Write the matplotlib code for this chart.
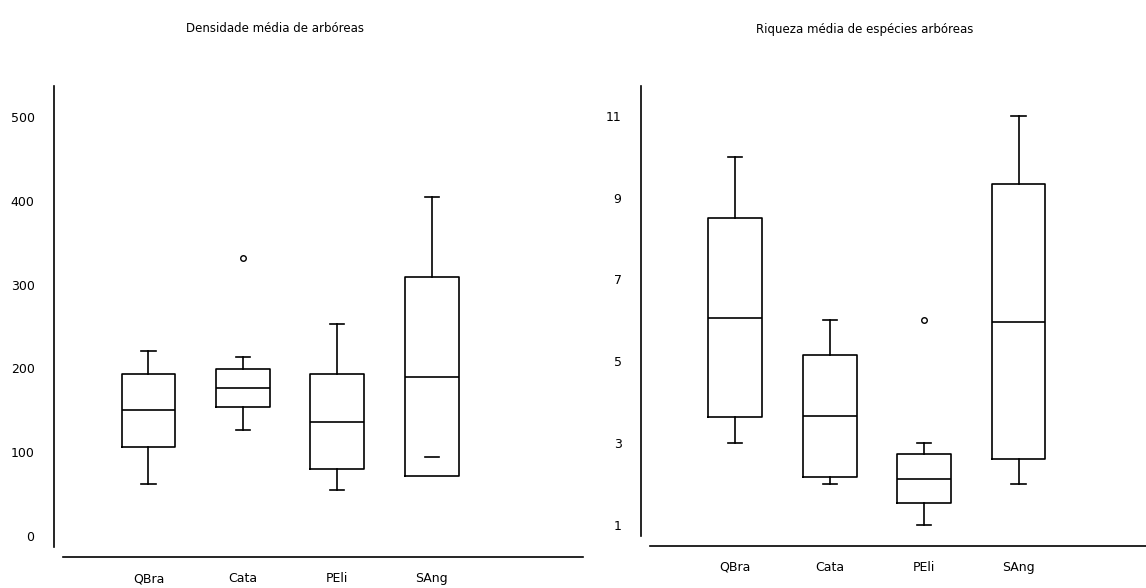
import matplotlib.pyplot as plt
from matplotlib.lines import Line2D
from matplotlib import font_manager

sites = ['QBra', 'Cata', 'PEli', 'SAng']

# densidade média de arbóreas
dens_whislo = [62, 126, 55, 94]
dens_q1 = [106, 154, 80, 72]
dens_med = [150, 177, 136, 190]
dens_q3 = [193, 199, 193, 309]
dens_whishi = [221, 214, 253, 405]
dens_fliers = [[], [332], [], []]

# riqueza média de espécies arbóreas
riq_whislo = [3, 2, 1, 2]
riq_q1 = [3.63, 2.17, 1.53, 2.62]
riq_med = [6.07, 3.66, 2.13, 5.95]
riq_q3 = [8.51, 5.16, 2.73, 9.33]
riq_whishi = [10, 6, 3, 11]
riq_fliers = [[], [], [6], []]

names = {f.name for f in font_manager.fontManager.ttflist}
if 'Liberation Sans Narrow' in names:
    plt.rcParams['font.family'] = ['Liberation Sans Narrow', 'DejaVu Sans']
    fs = 10
else:
    plt.rcParams['font.family'] = ['DejaVu Sans']
    fs = 9

W, H = 1146, 588
fig = plt.figure(figsize=(W / 100, H / 100), dpi=100)
fig.patch.set_facecolor('white')


def px_axes(left, right, top, bottom):
    return fig.add_axes([left / W, 1 - bottom / H, (right - left) / W, (bottom - top) / H])


def draw_panel(ax, whislo, q1, med, q3, whishi, fliers, ylim, yticks, xline_start, xline_off, skip_whisker=()):
    stats = []
    for i, name in enumerate(sites):
        stats.append(dict(label=name, whislo=whislo[i], q1=q1[i], med=med[i],
                          q3=q3[i], whishi=whishi[i], fliers=fliers[i]))
    lw = 1.2
    art = ax.bxp(stats, positions=[1, 2, 3, 4], widths=0.57, capwidths=0.15,
                 boxprops=dict(color='black', linewidth=lw),
                 medianprops=dict(color='black', linewidth=lw),
                 whiskerprops=dict(color='black', linewidth=lw),
                 capprops=dict(color='black', linewidth=lw),
                 flierprops=dict(marker='o', markersize=4, markerfacecolor='white',
                                 markeredgecolor='black', markeredgewidth=1.0))
    for i in skip_whisker:
        art['whiskers'][2 * i].set_visible(False)
    ax.set_ylim(*ylim)
    ax.set_yticks(yticks)
    for s in ['top', 'right', 'bottom']:
        ax.spines[s].set_visible(False)
    ax.spines['left'].set_linewidth(1.2)
    ax.tick_params(axis='both', length=0, labelsize=fs)
    ax.tick_params(axis='y', pad=14)
    ax.tick_params(axis='x', pad=18)
    ax.add_line(Line2D([xline_start, 1], [xline_off, xline_off], transform=ax.transAxes,
                       color='black', linewidth=1.2, clip_on=False))


ax1 = px_axes(54, 583, 86, 547)
ax1.set_xlim(0, 5.6)
draw_panel(ax1, dens_whislo, dens_q1, dens_med, dens_q3, dens_whishi, dens_fliers,
           (-13, 537), [0, 100, 200, 300, 400, 500], (63 - 54) / (583 - 54), -10 / 461,
           skip_whisker=(3,))

ax2 = px_axes(641, 1146, 86, 536)
ax2.set_xlim(0, 5.35)
draw_panel(ax2, riq_whislo, riq_q1, riq_med, riq_q3, riq_whishi, riq_fliers,
           (0.73, 11.73), [1, 3, 5, 7, 9, 11], (650 - 641) / (1146 - 641), -10 / 450)

fig.text(275 / W, 1 - 28 / H, 'Densidade média de arbóreas', ha='center', va='center', fontsize=fs - 0.5)
fig.text(865 / W, 1 - 30 / H, 'Riqueza média de espécies arbóreas', ha='center', va='center', fontsize=fs - 0.5)

fig.savefig('out.png', dpi=100)
